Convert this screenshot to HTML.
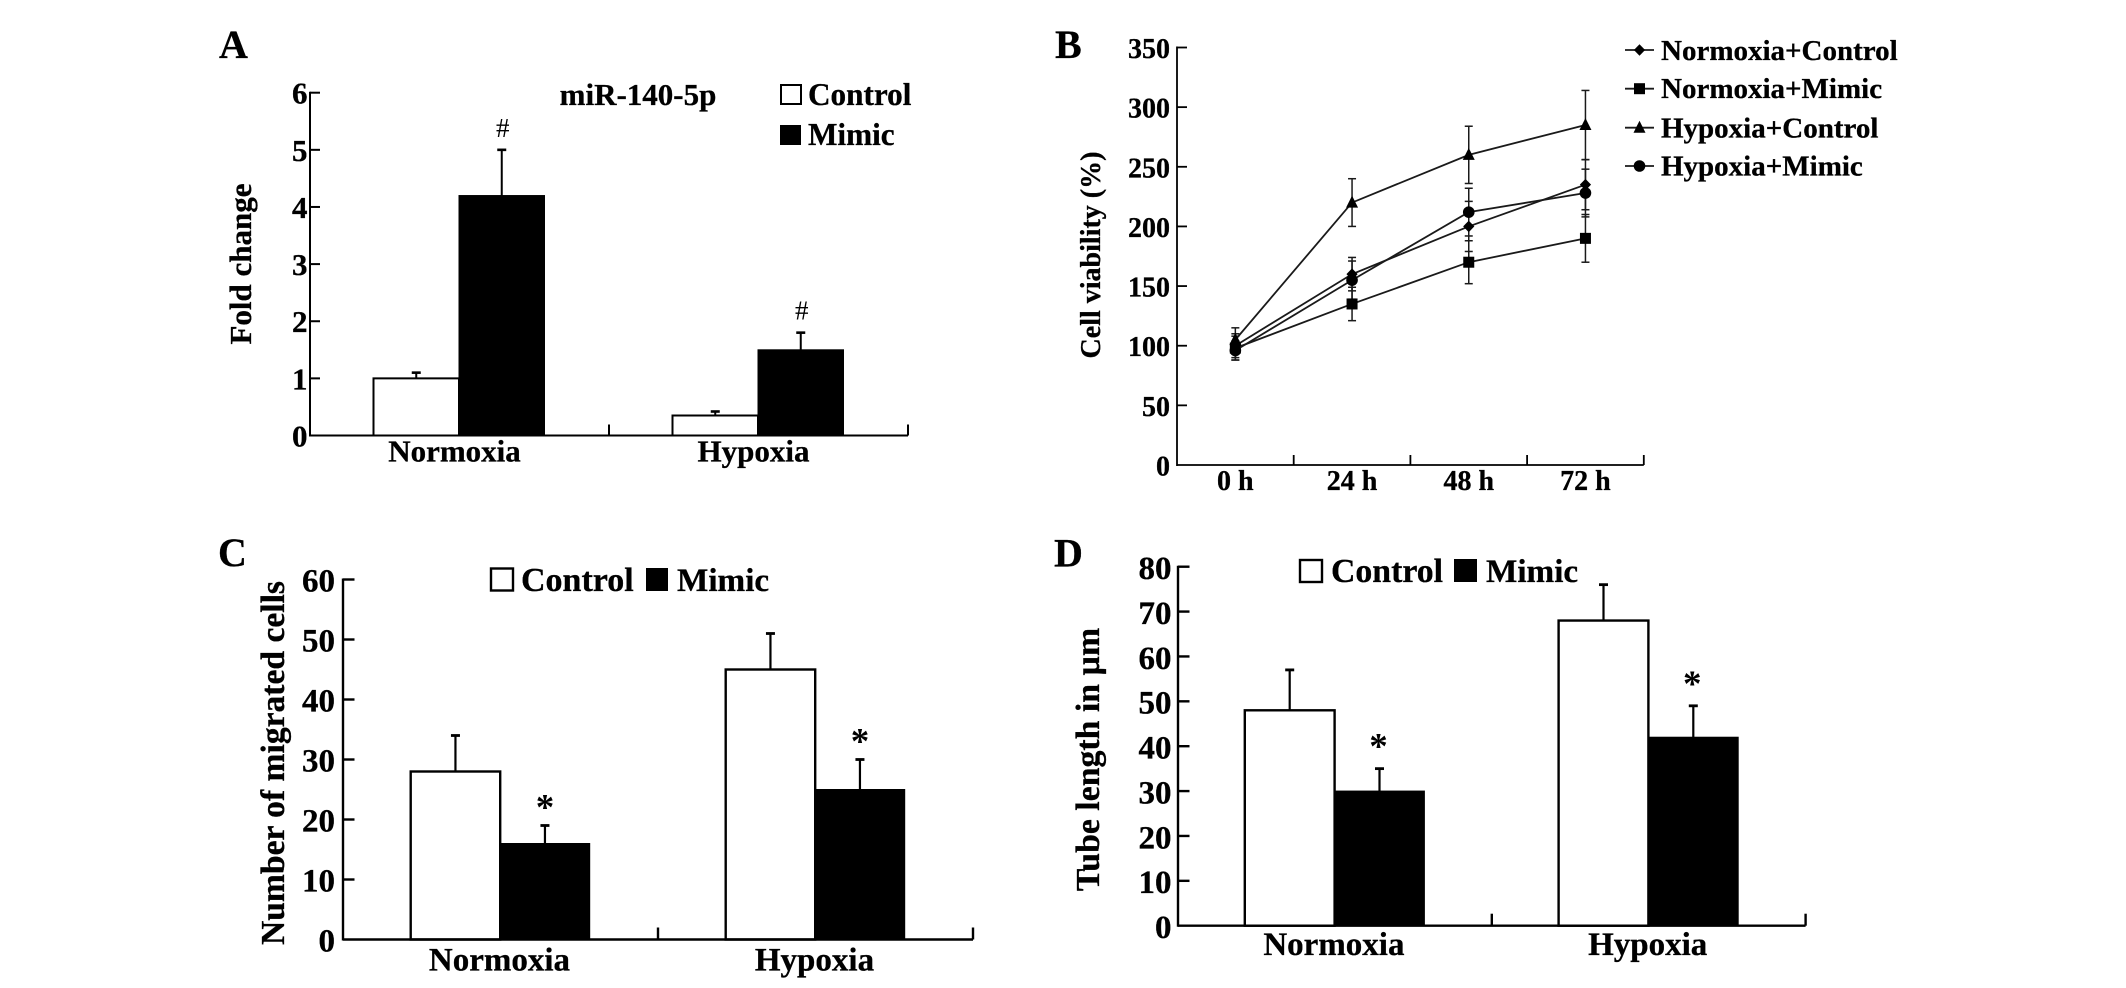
<!DOCTYPE html>
<html lang="en">
<head>
<meta charset="utf-8">
<title>miR-140-5p multi-panel figure</title>
<style>
  html, body { margin: 0; padding: 0; background: #fff; }
  #figure { display: block; width: 2126px; height: 988px; background: #fff; }
  text { font-family: "Liberation Serif", "DejaVu Serif", serif; font-weight: bold; fill: #000; stroke: #000; stroke-width: 0.3px; }
</style>
</head>
<body>
<svg id="figure" xmlns="http://www.w3.org/2000/svg" width="2126" height="988" viewBox="0 0 2126 988">
  <g id="panel-a">
    <text x="219" y="58" font-size="40">A</text>
    <text transform="translate(251 264) rotate(-90)" text-anchor="middle" font-size="31">Fold change</text>
    <text x="638" y="105" text-anchor="middle" font-size="31">miR-140-5p</text>
    <rect x="781" y="85" width="20" height="19" fill="#fff" stroke="#000" stroke-width="2"/>
    <text x="808" y="105" font-size="31.2">Control</text>
    <rect x="780" y="125" width="21" height="20" fill="#000"/>
    <text x="808" y="145" font-size="31.2">Mimic</text>
  </g>
  <g id="panel-b">
    <text x="1055" y="58" font-size="40">B</text>
    <text transform="translate(1100 255) rotate(-90)" text-anchor="middle" font-size="28">Cell viability (%)</text>
  </g>
  <g id="panel-c">
    <text x="218" y="566" font-size="40">C</text>
    <text transform="translate(284 763) rotate(-90)" text-anchor="middle" font-size="33.6">Number of migrated cells</text>
    <rect x="491" y="568.5" width="22" height="22" fill="#fff" stroke="#000" stroke-width="2.4"/>
    <text x="521" y="591" font-size="34">Control</text>
    <rect x="646" y="568" width="22" height="23" fill="#000"/>
    <text x="677" y="591" font-size="33.2">Mimic</text>
  </g>
  <g id="panel-d">
    <text x="1054" y="566.5" font-size="40">D</text>
    <text transform="translate(1099 759.5) rotate(-90)" text-anchor="middle" font-size="33.8">Tube length in µm</text>
    <rect x="1300" y="560" width="22" height="22" fill="#fff" stroke="#000" stroke-width="2.4"/>
    <text x="1331" y="582" font-size="33.8">Control</text>
    <rect x="1454" y="559" width="23" height="23" fill="#000"/>
    <text x="1486" y="582" font-size="33.2">Mimic</text>
  </g>
</svg>
<script>
// Panel A data
const aCategories = ['Normoxia', 'Hypoxia'];
const aTicks = [0, 1, 2, 3, 4, 5, 6];
const aControl = [1.0, 0.35];
const aControlErrorTop = [1.1, 0.42];
const aMimic = [4.2, 1.5];
const aMimicErrorTop = [5.0, 1.8];
const aMarks = ['#', '#'];

// Panel B data
const bCategories = ['0 h', '24 h', '48 h', '72 h'];
const bTicks = [0, 50, 100, 150, 200, 250, 300, 350];
const bSeriesNames = ['Normoxia+Control', 'Normoxia+Mimic', 'Hypoxia+Control', 'Hypoxia+Mimic'];
const bNormoxiaControl = [100, 160, 200, 235];
const bNormoxiaControlError = [10, 14, 21, 21];
const bNormoxiaMimic = [98, 135, 170, 190];
const bNormoxiaMimicError = [10, 14, 18, 20];
const bHypoxiaControl = [105, 220, 260, 285];
const bHypoxiaControlError = [10, 20, 24, 29];
const bHypoxiaMimic = [96, 155, 212, 228];
const bHypoxiaMimicError = [8, 16, 20, 20];

// Panel C data
const cCategories = ['Normoxia', 'Hypoxia'];
const cTicks = [0, 10, 20, 30, 40, 50, 60];
const cControl = [28, 45];
const cControlErrorTop = [34, 51];
const cMimic = [16, 25];
const cMimicErrorTop = [19, 30];
const cMarks = ['*', '*'];

// Panel D data
const dCategories = ['Normoxia', 'Hypoxia'];
const dTicks = [0, 10, 20, 30, 40, 50, 60, 70, 80];
const dControl = [48, 68];
const dControlErrorTop = [57, 76];
const dMimic = [30, 42];
const dMimicErrorTop = [35, 49];
const dMarks = ['*', '*'];

const SVG_NS = 'http://www.w3.org/2000/svg';

function shape(parent, tag, attrs) {
  const el = document.createElementNS(SVG_NS, tag);
  for (const k in attrs) el.setAttribute(k, attrs[k]);
  parent.appendChild(el);
  return el;
}

function label(parent, content, attrs) {
  const el = shape(parent, 'text', attrs);
  el.textContent = content;
  return el;
}

function seg(parent, x1, y1, x2, y2, width, color) {
  return shape(parent, 'line', { x1: x1, y1: y1, x2: x2, y2: y2, stroke: color || '#000', 'stroke-width': width });
}

function slug(s) {
  return String(s).toLowerCase().replace(/[^a-z0-9]+/g, '-').replace(/^-|-$/g, '');
}

function drawAxes(g, p, ticks, cats) {
  const yOf = v => p.y0 - (v / ticks[ticks.length - 1]) * (p.y0 - p.yTop);
  const yAxis = seg(g, p.x0, p.yTop - 1, p.x0, p.y0 + 1, p.axisWidth);
  
  
  const xAxis = seg(g, p.x0, p.y0, p.x0 + p.band * cats.length, p.y0, p.axisWidth);
  
  
  ticks.forEach(t => {
    const y = yOf(t);
    if (t !== 0) {
      const mark = seg(g, p.x0, y, p.x0 + p.tickLen, y, p.axisWidth);
      
      
    }
    const tl = label(g, t, { x: p.x0 - p.labelGap, y: y + p.labelDrop, 'text-anchor': 'end', 'font-size': p.font });
    
    
  });
  cats.forEach((c, i) => {
    const tx = p.x0 + p.band * (i + 1);
    const mark = seg(g, tx, p.y0, tx, p.y0 - p.xTickLen, p.axisWidth);
    
    
    const cl = label(g, c, { x: p.x0 + p.band * (i + 0.5) + p.labelDx, y: p.xLabelY, 'text-anchor': 'middle', 'font-size': p.font });
    
    
  });
  return yOf;
}

function drawBarPanel(id, p, ticks, cats, control, controlTop, mimic, mimicTop, marks) {
  const g = document.getElementById(id);
  const yOf = v => p.y0 - (v / ticks[ticks.length - 1]) * (p.y0 - p.yTop);

  function errorBar(cx, base, top) {
    const stem = seg(g, cx, yOf(base), cx, yOf(top), p.errWidth);
    
    
    const cap = seg(g, cx - p.cap / 2, yOf(top), cx + p.cap / 2, yOf(top), p.errWidth + 0.6);
    
    
  }

  cats.forEach((c, i) => {
    const start = p.x0 + p.band * i + p.offset;
    errorBar(start + p.barW / 2, control[i], controlTop[i]);
    errorBar(start + p.barW * 1.5, mimic[i], mimicTop[i]);
    const cBar = shape(g, 'rect', { x: start, y: yOf(control[i]), width: p.barW, height: p.y0 - yOf(control[i]), fill: '#fff', stroke: '#000', 'stroke-width': p.barStroke });
    
    
    const mBar = shape(g, 'rect', { x: start + p.barW, y: yOf(mimic[i]), width: p.barW, height: p.y0 - yOf(mimic[i]), fill: '#000', stroke: '#000', 'stroke-width': 1 });
    
    
    const note = label(g, marks[i], { x: start + p.barW * 1.5 + p.markDx, y: yOf(mimicTop[i]) - p.markGap, 'text-anchor': 'middle', 'font-size': p.markFont, 'font-weight': p.markWeight });
    note.style.fontWeight = p.markWeight;
    note.style.strokeWidth = '0';
    
    
  });
  drawAxes(g, p, ticks, cats);
}

function drawMarker(g, kind, cx, cy) {
  let el;
  if (kind === 'diamond') {
    el = shape(g, 'polygon', { points: [[cx, cy - 5.8], [cx + 5.6, cy], [cx, cy + 5.8], [cx - 5.6, cy]].join(' '), fill: '#000' });
  } else if (kind === 'square') {
    el = shape(g, 'rect', { x: cx - 5.5, y: cy - 5.5, width: 11, height: 11, fill: '#000' });
  } else if (kind === 'triangle') {
    el = shape(g, 'polygon', { points: [[cx, cy - 7], [cx + 6, cy + 5], [cx - 6, cy + 5]].join(' '), fill: '#000' });
  } else {
    el = shape(g, 'circle', { cx: cx, cy: cy, r: 5.8, fill: '#000' });
  }
  return el;
}

function drawLinePanel() {
  const g = document.getElementById('panel-b');
  const p = { x0: 1177, y0: 465, yTop: 47.5, band: 116.7, tickLen: 10, xTickLen: 10, axisWidth: 1.8, labelGap: 7, labelDrop: 10.5, font: 28, xLabelY: 490, labelDx: 0 };
  const yOf = drawAxes(g, p, bTicks, bCategories);
  const xOf = i => p.x0 + p.band * (i + 0.5);
  const kinds = ['diamond', 'square', 'triangle', 'circle'];
  const values = [bNormoxiaControl, bNormoxiaMimic, bHypoxiaControl, bHypoxiaMimic];
  const errors = [bNormoxiaControlError, bNormoxiaMimicError, bHypoxiaControlError, bHypoxiaMimicError];
  const legendY = [50, 88.7, 127.7, 166];
  const legendBase = [60, 98, 137.7, 175.7];

  values.forEach((series, s) => {
    series.forEach((v, i) => {
      const x = xOf(i), hi = yOf(v + errors[s][i]), lo = yOf(v - errors[s][i]);
      const stem = seg(g, x, hi, x, lo, 1.5, '#1a1a1a');
      
      
      const capHi = seg(g, x - 4, hi, x + 4, hi, 1.5, '#1a1a1a');
      
      
      const capLo = seg(g, x - 4, lo, x + 4, lo, 1.5, '#1a1a1a');
      
      
    });
  });
  values.forEach((series, s) => {
    const line = shape(g, 'polyline', { points: series.map((v, i) => xOf(i) + ',' + yOf(v)).join(' '), fill: 'none', stroke: '#1a1a1a', 'stroke-width': 1.8 });
    
    
    series.forEach((v, i) => {
      const pt = drawMarker(g, kinds[s], xOf(i), yOf(v));
      
      
    });
    const key = seg(g, 1625, legendY[s], 1654, legendY[s], 1.8, '#1a1a1a');
    
    
    const keyMark = drawMarker(g, kinds[s], 1639.5, legendY[s]);
    
    
    const keyText = label(g, bSeriesNames[s], { x: 1661, y: legendBase[s], 'font-size': 29 });
    
    
  });
}

drawBarPanel('panel-a',
  { x0: 310, y0: 435.5, yTop: 92.7, band: 299, offset: 63.5, barW: 85.5, tickLen: 10, xTickLen: 11, axisWidth: 2, labelGap: 2.5, labelDrop: 11, font: 31, xLabelY: 461.5, labelDx: -5, errWidth: 2, cap: 9, barStroke: 2, markDx: 1, markGap: 13, markFont: 27, markWeight: 'normal' },
  aTicks, aCategories, aControl, aControlErrorTop, aMimic, aMimicErrorTop, aMarks);

drawLinePanel();

drawBarPanel('panel-c',
  { x0: 343, y0: 939.5, yTop: 579.5, band: 315, offset: 67.7, barW: 89.5, tickLen: 11.5, xTickLen: 12, axisWidth: 2.4, labelGap: 8, labelDrop: 12, font: 33, xLabelY: 970.5, labelDx: -1, errWidth: 2.2, cap: 9, barStroke: 2.4, markDx: 0, markGap: 6, markFont: 37, markWeight: 'bold' },
  cTicks, cCategories, cControl, cControlErrorTop, cMimic, cMimicErrorTop, cMarks);

drawBarPanel('panel-d',
  { x0: 1178, y0: 925.7, yTop: 566.7, band: 313.8, offset: 66.8, barW: 89.8, tickLen: 11.5, xTickLen: 12, axisWidth: 2.4, labelGap: 6.5, labelDrop: 12.3, font: 33, xLabelY: 955, labelDx: -1, errWidth: 2.2, cap: 9, barStroke: 2.4, markDx: -1, markGap: 10, markFont: 37, markWeight: 'bold' },
  dTicks, dCategories, dControl, dControlErrorTop, dMimic, dMimicErrorTop, dMarks);
</script>
</body>
</html>
